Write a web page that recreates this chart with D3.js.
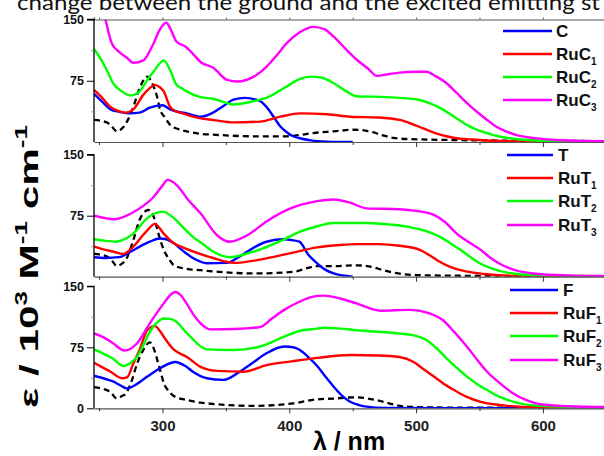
<!DOCTYPE html>
<html><head><meta charset="utf-8">
<script src="https://cdn.jsdelivr.net/npm/d3@7"></script>
<style>body{margin:0;background:#fff}svg{display:block}</style>
</head><body>
<svg id="chart" width="604" height="456"></svg>
<script>
// ---------- data (wavelength nm, epsilon 10^3 M-1 cm-1) ----------
const xTicks = [300, 400, 500, 600];
const yTickLabelsTop = [150, 75];
const yTickLabelsBottom = [150, 75, 0];

const panel1Names = ["C", "RuC", "RuC", "RuC"];
const panel1Subs = ["", "1", "2", "3"];
const panel2Names = ["T", "RuT", "RuT", "RuT"];
const panel2Subs = ["", "1", "2", "3"];
const panel3Names = ["F", "RuF", "RuF", "RuF"];
const panel3Subs = ["", "1", "2", "3"];

// Panel 1
const C  = [[246,59],[252,50],[259,40],[266,37],[274,35],[282,36],[290,42],[300,45],[306,40],[312,37],[319,35],[330,31],[340,36],[348,44],[356,52],[365,54],[377,50],[382,43],[388,30],[393,19],[398,12],[403,7],[410,4],[417,2],[430,0.5],[450,0]];
const RuC1 = [[246,64],[252,55],[259,43],[265,38],[271,36],[277,40],[285,58],[290,66],[294,70],[298,67],[301,62],[306,43],[310,38],[314,36],[320,33],[330,29],[340,27],[356,24],[377,25],[393,31],[409,35],[430,34],[448,31],[470,30],[487,27],[497,22],[505,17],[515,11],[524,7],[535,4],[545,3],[560,1.5],[580,0.8],[650,0.3]];
const RuC2 = [[246,114],[250,105],[253,97],[257,85],[261,72],[268,62],[275,57],[282,62],[288,76],[293,86],[301,100],[306,88],[311,70],[315,66],[319,62],[330,55],[340,53],[356,46],[372,50],[382,54],[398,68],[408,77],[417,80],[425,79],[435,72],[445,62],[453,56],[477,55],[501,52],[510,48],[521,40],[530,31],[540,21],[548,15],[556,11],[565,7],[577,4],[600,1.5],[650,0.5]];
const RuC3 = [[246,200],[250,180],[255,150],[260,121],[266,110],[272,103],[277,97],[285,100],[293,121],[298,138],[303,146],[307,136],[311,123],[318,117],[324,108],[330,98],[340,91],[351,76],[359,74],[372,80],[382,92],[390,106],[398,121],[408,134],[419,141],[428,138],[435,129],[445,113],[453,101],[462,90],[469,81],[478,83],[487,85],[500,86],[508,86],[516,80],[524,72],[532,60],[540,48],[548,37],[556,27],[563,19],[571,13],[580,8],[592,5],[610,2.5],[650,1]];
const ref1 = [[246,27],[256,24],[260,19],[264,13],[269,18],[273,28],[277,43],[282,66],[286,78],[288,80],[291,75],[293,68],[296,54],[298,40],[302,30],[306,21],[312,16],[319,13],[330,10],[340,9],[372,7],[398,7],[410,9],[419,11],[435,13],[451,15],[460,14],[466,12],[474,8],[482,5],[495,3.5],[508,3],[550,2],[600,1.5],[650,1]];

// Panel 2
const T  = [[246,24],[255,23],[266,24],[274,30],[282,37],[290,43],[298,47],[303,46],[309,41],[316,32],[324,23],[335,16.5],[351,17],[360,24],[367,31],[382,43],[396,46],[402,45],[408,43],[415,27],[422,16.5],[428,9],[435,4],[442,1.5],[450,0]];
const RuT1 = [[246,37],[255,33],[261,31],[269,28],[277,37],[283,48],[288,57],[294,65],[301,53],[309,41],[316,36],[324,31],[340,23],[356,17],[377,21],[401,29],[422,36],[440,39],[453,40],[470,40],[487,38],[503,33],[511,26],[519,18],[527,12],[535,8],[545,5],[556,3],[580,1],[650,0.3]];
const RuT2 = [[246,46],[255,44],[264,43],[270,46],[277,53],[288,72],[300,80],[309,72],[316,61],[324,49],[332,40],[340,31],[353,24],[372,31],[396,46],[408,55],[422,62],[435,66],[461,66],[480,64],[495,61],[508,56],[519,49],[527,41],[535,33],[543,24],[551,16],[560,10],[572,5],[590,2],[650,0.5]];
const RuT3 = [[246,75],[255,72],[261,70.6],[270,74],[282,84],[293,98],[300,112],[304,119],[311,113],[320,95],[330,78],[343,51],[353,43],[367,51],[382,68],[401,84],[422,93],[435,95],[448,91],[461,84],[487,83],[500,81],[514,76],[523,67],[532,53],[542,42],[551,33],[558,24],[566,16],[578,8],[592,4],[620,1.5],[650,0.8]];
const ref2 = [[246,28],[256,25],[260,20],[264,13],[268,16],[271,20.5],[277,45],[282,70],[287,81],[289,82],[293,74],[297,52],[301,33],[305,22],[309,14],[318,10],[330,8],[372,4],[403,6],[422,13],[435,13],[453,14],[465,12],[474,8],[486,4],[498,2],[550,1],[650,0.5]];

// Panel 3
const F  = [[246,40],[255,36],[261,33],[267,28],[272,24.5],[280,30],[288,39],[300,51],[310,57],[318,52],[324,45],[335,37],[348,35],[355,39],[361,45],[372,57],[382,67.6],[396,76],[403,75],[408,72],[415,63],[422,52],[428,40],[435,26.5],[442,15],[448,8],[455,4],[461,2],[475,0.5],[600,0],[650,0]];
const RuF1 = [[246,56],[253,50],[259,45],[268,37],[272,38],[277,55],[282,72],[288,96],[294,101],[298,95],[301,88],[309,72],[319,63.5],[330,51],[343,46],[364,45],[382,53],[403,58],[422,62],[448,65.5],[470,65],[487,63],[498,57],[506,48],[514,39],[522,30],[530,22.5],[540,14],[551,8],[561,5],[572,3],[600,1],[650,0.3]];
const RuF2 = [[246,72.5],[255,66],[261,61],[269,52],[275,56],[280,63.5],[285,78],[290,94],[296,106],[301,110.5],[306,110],[311,106.5],[316,98],[322,88],[335,72.5],[356,71.7],[377,76],[396,88],[408,95],[422,98],[427,99],[440,98],[453,96],[487,92],[500,89],[508,84],[516,74],[524,61.5],[532,50],[540,39],[548,30],[556,22.5],[566,14],[577,8],[598,3],[650,1]];
const RuF3 = [[246,92],[255,86],[261,80],[270,71],[280,80],[290,104.5],[301,129],[306,139],[310,143],[315,138],[319,129],[325,114],[330,104.5],[338,97],[356,97.5],[377,100],[386,110],[396,121],[408,131],[418,137],[427,138.5],[440,135],[453,129],[472,120],[495,121],[510,117],[521,108.5],[530,94],[540,76],[548,60],[556,45],[566,31],[577,18],[587,10],[598,5],[620,2.5],[650,1.5]];
const ref3 = [[246,26],[255,23],[259,20],[264,12],[268,15],[271,18],[276,35],[280,55],[285,72],[290,81],[293,74],[296,59],[299,42],[301,31],[305,21],[309,15],[320,10],[330,7],[372,3],[403,6],[422,11],[435,12],[451,13.5],[469,10],[480,5.5],[487,3],[500,1.5],[514,1],[650,0.5]];

const seriesColors = ["#0000ff", "#ff0000", "#00ff00", "#ff00ff"];

// ---------- layout ----------
const svg = d3.select("#chart");
const font = "'Liberation Sans', Arial, sans-serif";
const x = d3.scaleLinear().domain([246, 650]).range([94, 606.3]);

const panels = [
  {top: 19.5, bottom: 142, series: [C, RuC1, RuC2, RuC3], ref: ref1, names: panel1Names, subs: panel1Subs,
   leg: {x1: 503, x2: 552, tx: 556, ys: [31, 54, 77, 100]}, labels: yTickLabelsTop, topLine: true},
  {top: 154.7, bottom: 276.7, series: [T, RuT1, RuT2, RuT3], ref: ref2, names: panel2Names, subs: panel2Subs,
   leg: {x1: 507, x2: 553, tx: 558, ys: [155, 178, 201, 225]}, labels: yTickLabelsTop, topLine: false},
  {top: 286.3, bottom: 408.3, series: [F, RuF1, RuF2, RuF3], ref: ref3, names: panel3Names, subs: panel3Subs,
   leg: {x1: 510, x2: 558, tx: 563, ys: [290, 313, 336, 360]}, labels: yTickLabelsBottom, topLine: false}
];

// title fragment at top (cropped caption, as in the source image)
svg.append("text").attr("x", 17).attr("y", 10)
  .attr("font-family", "Lato, 'Open Sans', sans-serif").attr("font-size", 21)
  .attr("textLength", 583).attr("lengthAdjust", "spacingAndGlyphs")
  .attr("fill", "#111")
  .text("change between the ground and the excited emitting st");

const minorX = d3.range(250, 651, 50);

panels.forEach((p, i) => {
  const y = d3.scaleLinear().domain([0, 150]).range([p.bottom, p.top]);
  const g = svg.append("g");
  const clipId = "clip" + i;
  svg.append("clipPath").attr("id", clipId).append("rect")
    .attr("x", 94).attr("y", p.top).attr("width", 520).attr("height", p.bottom - p.top);

  const line = d3.line().x(d => x(d[0])).y(d => y(d[1])).curve(d3.curveMonotoneX);
  const plot = g.append("g").attr("clip-path", `url(#${clipId})`);

  plot.append("path").datum(p.ref).attr("d", line).attr("fill", "none")
    .attr("stroke", "#000").attr("stroke-width", 2.3).attr("stroke-dasharray", "6,4");
  p.series.forEach((s, k) => {
    plot.append("path").datum(s).attr("d", line).attr("fill", "none")
      .attr("stroke", seriesColors[k]).attr("stroke-width", 2.4);
  });

  // x axis (bottom)
  const xAxis = d3.axisBottom(x).tickValues(minorX)
    .tickSize(0).tickFormat(i === 2 ? (d => (xTicks.includes(d) ? d : "")) : () => "");
  const xa = g.append("g").attr("transform", `translate(0,${p.bottom})`).call(xAxis);
  xa.select(".domain").attr("stroke", "#555").attr("stroke-width", 1.2);
  xa.selectAll(".tick line").attr("y2", d => (d % 100 === 0 ? 5 : 3)).attr("stroke", "#333");
  xa.selectAll(".tick text").attr("font-family", font).attr("font-weight", "bold")
    .attr("font-size", 15).attr("fill", "#222").attr("dy", null).attr("y", 23);

  if (p.topLine) {
    const xt = d3.axisTop(x).tickValues(minorX).tickSize(2).tickFormat(() => "");
    const ta = g.append("g").attr("transform", `translate(0,${p.top})`).call(xt);
    ta.select(".domain").attr("stroke", "#555").attr("stroke-width", 1.2);
    ta.selectAll(".tick line").attr("stroke", "#555");
  }

  // y axis
  const yAxis = d3.axisLeft(y).tickValues(p.labels).tickSize(7).tickPadding(3)
    .tickFormat(d3.format("d"));
  const ya = g.append("g").attr("transform", "translate(94,0)").call(yAxis);
  ya.select(".domain").attr("stroke", "#000").attr("stroke-width", 1.3)
    .attr("d", `M-7,${p.top}H0V${p.bottom}`);
  ya.selectAll(".tick line").attr("stroke", "#000");
  ya.selectAll(".tick text").attr("font-family", font).attr("font-weight", "bold")
    .attr("font-size", 12.5).attr("fill", "#111");
  const ym = d3.axisLeft(y).tickValues([37.5, 112.5]).tickSize(3).tickFormat(() => "");
  const yma = g.append("g").attr("transform", "translate(94,0)").call(ym);
  yma.select(".domain").remove();
  yma.selectAll(".tick line").attr("stroke", "#999");

  // legend
  p.names.forEach((n, k) => {
    const ly = p.leg.ys[k];
    g.append("line").attr("x1", p.leg.x1).attr("x2", p.leg.x2).attr("y1", ly).attr("y2", ly)
      .attr("stroke", seriesColors[k]).attr("stroke-width", 2.4);
    const t = g.append("text").attr("x", p.leg.tx).attr("y", ly + 6)
      .attr("font-family", font).attr("font-weight", "bold").attr("font-size", 17).attr("fill", "#111");
    t.append("tspan").text(n);
    if (p.subs[k]) t.append("tspan").attr("font-size", 10).attr("dy", 5).text(p.subs[k]);
  });
});

// y axis title: stretched glyphs along the text direction to match source
const ylg = svg.append("g");
const yl = ylg.append("text").attr("text-anchor", "middle").attr("font-family", font)
  .attr("font-weight", "bold").attr("font-size", 26).attr("fill", "#000");
yl.append("tspan").text("ε / 10");
yl.append("tspan").attr("font-size", 16).attr("dy", -11).text("3");
yl.append("tspan").attr("dy", 11).text(" M");
yl.append("tspan").attr("font-size", 16).attr("dy", -11).text("-1");
yl.append("tspan").attr("dy", 11).text(" cm");
yl.append("tspan").attr("font-size", 16).attr("dy", -11).text("-1");
const natural = yl.node().getComputedTextLength() || 200;
const sx = 283 / natural;
ylg.attr("transform", `translate(38,266.5) rotate(-90) scale(${sx},1)`);

svg.append("text").attr("x", 349).attr("y", 450).attr("text-anchor", "middle")
  .attr("font-family", font).attr("font-weight", "bold").attr("font-size", 25).attr("fill", "#000")
  .text("λ / nm");
</script>
</body></html>
